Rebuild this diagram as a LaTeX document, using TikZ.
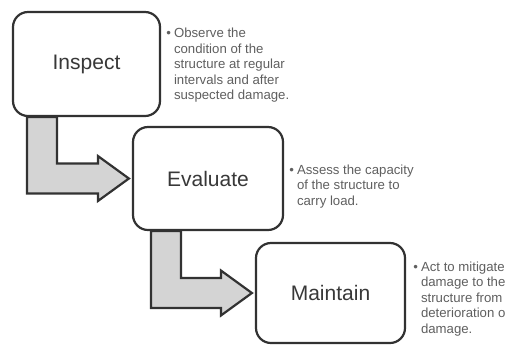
\documentclass[tikz,border=0pt]{standalone}
\usepackage{fontspec}
\setmainfont{Liberation Sans}
\usetikzlibrary{positioning}
\definecolor{boxgray}{RGB}{50,50,50}
\definecolor{arrowfill}{RGB}{212,212,212}
\definecolor{notegray}{RGB}{95,95,95}

\begin{document}
\begin{tikzpicture}[
  x=0.5pt, y=-0.5pt,
  stepbox/.style={draw=boxgray, line width=1.1pt, rounded corners=7.5pt, fill=white,
    inner sep=0pt, font=\fontsize{10.5}{12}\selectfont, text=black!78},
  elbow/.style={fill=arrowfill, draw=boxgray, line width=1.1pt, line join=miter},
  note/.style={anchor=base west, inner sep=0pt, text=notegray,
    font=\fontsize{6.6}{7.8}\selectfont},
]
  \useasboundingbox (0,0) rectangle (506,344);
  \clip (0,0) rectangle (506,344);

  % Steps
  \node[stepbox, minimum width=73.5pt, minimum height=52pt] (insp) at (86.5,64) {Inspect};
  \node[stepbox, minimum width=75pt, minimum height=51.5pt] (eval) at (208,178.5) {Evaluate};
  \node[stepbox, minimum width=74.5pt, minimum height=50pt] (maint) at (330.5,293) {Maintain};

  % Elbow arrows between steps
  \coordinate (tipa) at ([xshift=-1.5pt]eval.west);
  \draw[elbow] (tipa) -- ++(-31,-22.5) -- ++(0,7.5)
    -| ([xshift=22.5pt]insp.south west) -- ++(-30,0)
    |- ([shift={(-15.5pt,-7.5pt)}]tipa) -- ++(0,7.5) -- cycle;

  \coordinate (tipb) at ([xshift=-1.5pt]maint.west);
  \draw[elbow] (tipb) -- ++(-31,-22.5) -- ++(0,7.5)
    -| ([xshift=24.5pt]eval.south west) -- ++(-30,0)
    |- ([shift={(-15.5pt,-7.5pt)}]tipb) -- ++(0,7.5) -- cycle;

  % Notes
  \node[note] (noteinsp) at (166,37.5) {\begin{tabular}[t]{@{}l@{\hspace{1.5pt}}l@{}}
    \textbullet & Observe the\\
    & condition of the\\
    & structure at regular\\
    & intervals and after\\
    & suspected damage.
  \end{tabular}};
  \node[note] (noteeval) at (289,174) {\begin{tabular}[t]{@{}l@{\hspace{1.5pt}}l@{}}
    \textbullet & Assess the capacity\\
    & of the structure to\\
    & carry load.
  \end{tabular}};
  \node[note] (notemaint) at (413,271) {\begin{tabular}[t]{@{}l@{\hspace{1.5pt}}l@{}}
    \textbullet & Act to mitigate\\
    & damage to the\\
    & structure from\\
    & deterioration or\\
    & damage.
  \end{tabular}};
\end{tikzpicture}
\end{document}
